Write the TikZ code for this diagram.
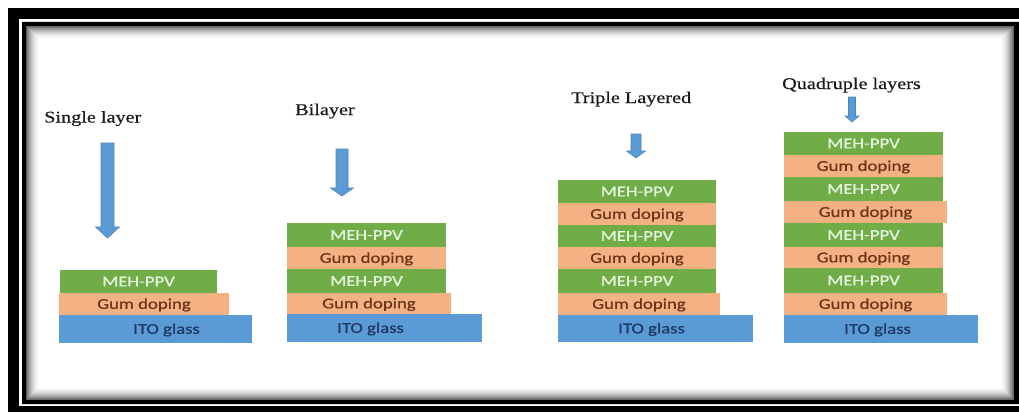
\documentclass[tikz,border=0pt]{standalone}
\usepackage{fontspec}
\usetikzlibrary{calc}

% Fonts: a Calibri-metric sans for layer labels, a Times-metric serif for headings
\newfontfamily\boxfont[FakeStretch=1.25, FakeBold=0.7]{Carlito}
\newfontfamily\headfont[FakeStretch=1.24, FakeBold=0.4]{Liberation Serif}

\definecolor{mehgreen}{HTML}{70AD47}
\definecolor{mehtext}{HTML}{E6F3DE}
\definecolor{gumorange}{HTML}{F4B183}
\definecolor{gumtext}{HTML}{6B3318}
\definecolor{itoblue}{HTML}{5B9BD5}
\definecolor{itotext}{HTML}{1F3864}
\definecolor{arrowblue}{HTML}{5B9BD5}
\definecolor{arrowedge}{HTML}{4A86BE}
\definecolor{headgray}{HTML}{1A1A1A}

\tikzset{
  layer/.style={rectangle, inner sep=0pt, outer sep=0pt, anchor=north west,
    font=\boxfont\fontsize{15}{18}\selectfont, text height=9.7pt, text depth=0pt},
  mehlayer/.style={layer, fill=mehgreen, text=mehtext},
  gumlayer/.style={layer, fill=gumorange, text=gumtext},
  itolayer/.style={layer, fill=itoblue},
  itolabel/.style={inner sep=0pt, text=itotext,
    font=\boxfont\fontsize{15}{18}\selectfont, text height=9.7pt, text depth=0pt},
  heading/.style={inner sep=0pt, anchor=base west, text=headgray,
    font=\headfont\fontsize{16.3}{19}\selectfont},
  blockarrow/.style={fill=arrowblue, draw=arrowedge, line width=0.6pt, line join=miter},
}

% one layer of a stack: style, name, left, top, right, bottom, text
\newcommand\stackbox[7]{%
  \node[#1, minimum width={(#5-#3)*1pt}, minimum height={(#6-#4)*1pt}] (#2) at (#3,#4) {#7};}

% downward block arrow: centre x, top, head start, tip, shaft half width, head half width
\newcommand\blockarrowdown[6]{%
  \draw[blockarrow] (#1-#5,#2) -- (#1+#5,#2) -- (#1+#5,#3) -- (#1+#6,#3) -- (#1,#4)
    -- (#1-#6,#3) -- (#1-#5,#3) -- cycle;}

\begin{document}
\begin{tikzpicture}[x=1pt, y=-1pt]
\useasboundingbox (0,0) rectangle (1019,412);
\fill[white] (0,0) rectangle (1019,412);

% ---- double frame with inner shadow ----
\fill[black] (8,8) rectangle (1019,19);
\fill[black] (8,8) rectangle (19,412);
\fill[black] (8,406) rectangle (1019,412);
\fill[black, even odd rule] (22,22) rectangle (1019,404) (26,26) rectangle (1014,400);
\foreach \i in {0,...,13} {
  \pgfmathsetmacro\op{0.6*(1-\i/14)^2}
  \draw[black, opacity=\op, line width=1pt] (26.5+\i,26.5+\i) rectangle (1013.5-\i,399.5-\i);
}

% ---- single layer ----
\node[heading] (t1) at (44,122.5) {Single layer};
\blockarrowdown{107.5}{143}{227}{238}{6.5}{12}
\stackbox{mehlayer}{s1a}{60}{270}{217}{293}{MEH-PPV}
\stackbox{gumlayer}{s1b}{59}{293}{229}{315}{Gum doping}
\stackbox{itolayer}{s1c}{59}{315}{252}{343}{}
\node[itolabel] (s1t) at ($(s1c.center)+(11,0)$) {ITO glass};

% ---- bilayer ----
\node[heading] (t2) at (295,115) {Bilayer};
\blockarrowdown{342}{149}{188}{196}{6}{11.5}
\stackbox{mehlayer}{s2a}{287}{223}{446}{247}{MEH-PPV}
\stackbox{gumlayer}{s2b}{287}{247}{446}{269}{Gum doping}
\stackbox{mehlayer}{s2c}{287}{269}{446}{293}{MEH-PPV}
\stackbox{gumlayer}{s2d}{287}{293}{451}{314}{Gum doping}
\stackbox{itolayer}{s2e}{287}{314}{482}{342}{}
\node[itolabel] (s2t) at ($(s2e.center)+(-14,0)$) {ITO glass};

% ---- triple layered ----
\node[heading] (t3) at (571,103) {Triple Layered};
\blockarrowdown{636}{134}{151}{158}{5}{9.5}
\stackbox{mehlayer}{s3a}{558}{180}{716}{203}{MEH-PPV}
\stackbox{gumlayer}{s3b}{558}{203}{716}{225}{Gum doping}
\stackbox{mehlayer}{s3c}{558}{225}{716}{247}{MEH-PPV}
\stackbox{gumlayer}{s3d}{558}{247}{716}{269}{Gum doping}
\stackbox{mehlayer}{s3e}{558}{269}{716}{293}{MEH-PPV}
\stackbox{gumlayer}{s3f}{558}{293}{720}{315}{Gum doping}
\stackbox{itolayer}{s3g}{558}{315}{753}{342}{}
\node[itolabel] (s3t) at ($(s3g.center)+(-4,0)$) {ITO glass};

% ---- quadruple layers ----
\node[heading] (t4) at (782,89) {Quadruple layers};
\blockarrowdown{852}{97}{116}{122}{3.5}{7}
\stackbox{mehlayer}{s4a}{784}{132}{943}{155}{MEH-PPV}
\stackbox{gumlayer}{s4b}{784}{155}{943}{177}{Gum doping}
\stackbox{mehlayer}{s4c}{784}{177}{943}{201}{MEH-PPV}
\stackbox{gumlayer}{s4d}{784}{201}{947}{223}{Gum doping}
\stackbox{mehlayer}{s4e}{784}{223}{943}{247}{MEH-PPV}
\stackbox{gumlayer}{s4f}{784}{247}{943}{268}{Gum doping}
\stackbox{mehlayer}{s4g}{784}{268}{943}{293}{MEH-PPV}
\stackbox{gumlayer}{s4h}{784}{293}{947}{315}{Gum doping}
\stackbox{itolayer}{s4i}{784}{315}{978}{343}{}
\node[itolabel] (s4t) at ($(s4i.center)+(-3.5,0)$) {ITO glass};
\end{tikzpicture}
\end{document}
